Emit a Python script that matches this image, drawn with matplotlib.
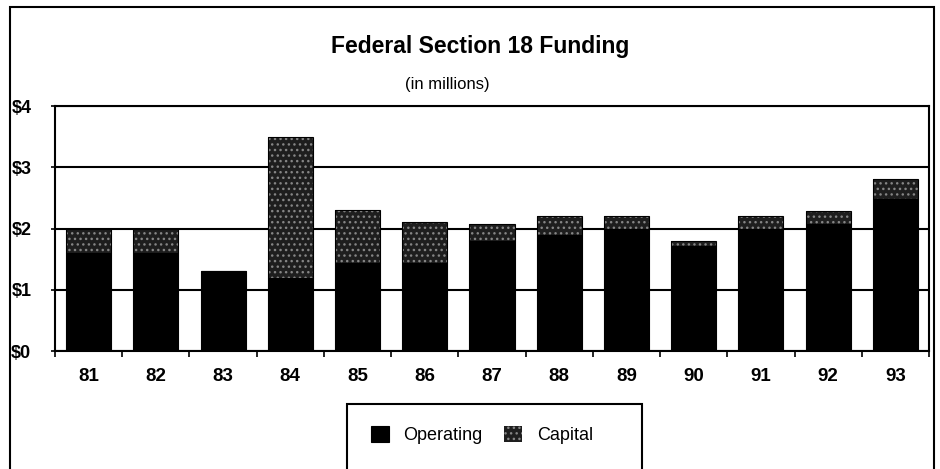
import matplotlib
matplotlib.use("Agg")
import matplotlib.pyplot as plt
import matplotlib.patches as mpatches
import numpy as np

plt.rcParams['font.family'] = ['Liberation Sans', 'DejaVu Sans']

years = ["81", "82", "83", "84", "85", "86", "87", "88", "89", "90", "91", "92", "93"]
operating = [1.6, 1.6, 1.3, 1.2, 1.43, 1.43, 1.8, 1.9, 2.0, 1.72, 2.0, 2.08, 2.48]
capital = [0.4, 0.4, 0.0, 2.3, 0.87, 0.67, 0.27, 0.3, 0.2, 0.08, 0.2, 0.2, 0.32]
yticks = [0, 1, 2, 3, 4]
ytick_labels = ["$0", "$1", "$2", "$3", "$4"]

W, H = 940, 469
fig = plt.figure(figsize=(W / 100, H / 100), dpi=100)
fig.patch.set_facecolor("white")

# outer frame
fig.patches.append(mpatches.Rectangle((10 / W, 0 - 0.05), (934 - 10) / W, 1 - 7 / H + 0.05,
                                      transform=fig.transFigure, fill=False,
                                      edgecolor="black", linewidth=1.5, zorder=0))

ax = fig.add_axes([55 / W, 1 - 351 / H, (929 - 55) / W, (351 - 106) / H])
x = np.arange(len(years))
ax.bar(x, operating, width=0.67, color="black", edgecolor="black", linewidth=0.8, zorder=3,
       label="Operating")
plt.rcParams['hatch.linewidth'] = 1.0
ax.bar(x, capital, bottom=operating, width=0.67, color="#1e1e1e", edgecolor="#858585",
       hatch="...", linewidth=0, zorder=3, label="Capital")
ax.bar(x, capital, bottom=operating, width=0.67, fill=False, edgecolor="black",
       linewidth=0.8, zorder=4)

ax.set_xlim(-0.5, len(years) - 0.5)
ax.set_ylim(0, 4)
ax.set_yticks(yticks)
ax.set_yticklabels(ytick_labels, fontsize=13, fontweight="bold")
ax.set_xticks(x)
ax.set_xticklabels(years, fontsize=13.5, fontweight="bold")
ax.set_xticks(np.arange(len(years) + 1) - 0.5, minor=True)
ax.tick_params(axis="x", which="major", length=0, pad=12)
ax.tick_params(axis="x", which="minor", length=4, direction="out", width=1.2)
ax.tick_params(axis="y", which="major", length=3, direction="out", width=1.2, pad=14)
ax.yaxis.grid(True, color="black", linewidth=1.5, zorder=1)
ax.set_axisbelow(True)
for s in ax.spines.values():
    s.set_linewidth(1.5)

fig.text(480 / W, 1 - 46 / H, "Federal Section 18 Funding", ha="center", va="center",
         fontsize=16.5, fontweight="bold")
fig.text(447 / W, 1 - 84 / H, "(in millions)", ha="center", va="center", fontsize=12)

# legend box
fig.patches.append(mpatches.Rectangle((347 / W, -0.05), (642 - 347) / W, 1 - 404 / H + 0.05,
                                      transform=fig.transFigure, fill=False,
                                      edgecolor="black", linewidth=1.5))
handles, labels = ax.get_legend_handles_labels()
leg = fig.legend(handles, labels, loc="center", bbox_to_anchor=(482 / W, 1 - 435 / H),
                 ncol=2, frameon=False, fontsize=13, handlelength=1.0, handleheight=1.0,
                 columnspacing=1.2, handletextpad=0.8)

fig.savefig("out.png", dpi=100, facecolor="white")
